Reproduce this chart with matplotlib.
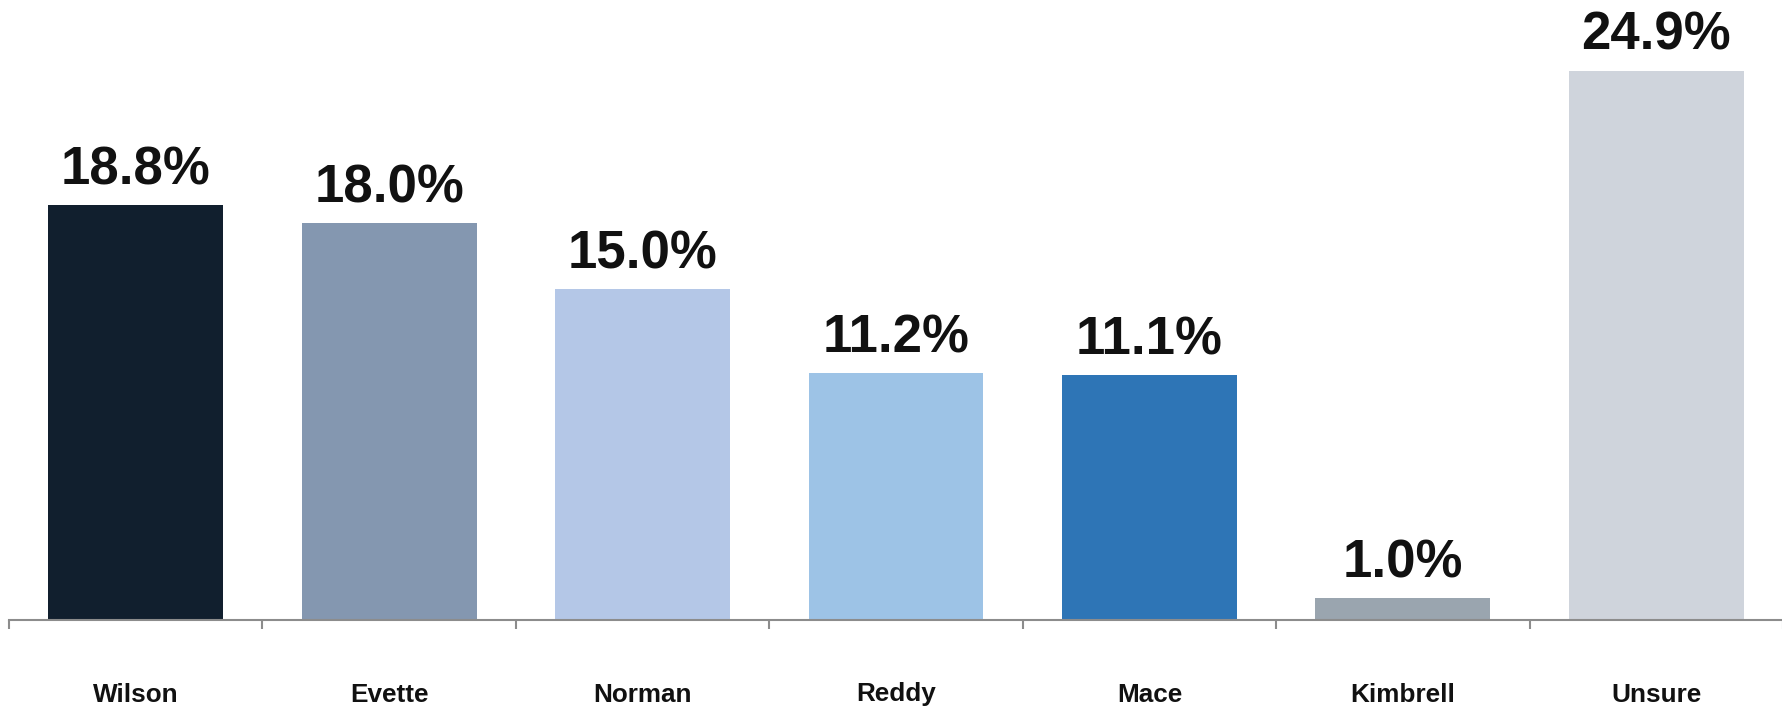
import matplotlib.pyplot as plt

names = ["Wilson", "Evette", "Norman", "Reddy", "Mace", "Kimbrell", "Unsure"]
shares = [18.8, 18.0, 15.0, 11.2, 11.1, 1.0, 24.9]
colors = ["#111f2e", "#8497b0", "#b4c7e7", "#9dc3e6", "#2e75b6", "#9aa5af", "#cfd4dc"]

plt.rcParams['font.family'] = ['Liberation Sans', 'DejaVu Sans']

fig = plt.figure(figsize=(17.83, 7.10), dpi=100)
ax = fig.add_axes([9 / 1783, 90 / 710, 1 - 9 / 1783, 620 / 710])

x = range(len(names))
bars = ax.bar(x, shares, width=0.69, color=colors)
for b, v in zip(bars, shares):
    ax.annotate(f"{v:.1f}%", (b.get_x() + b.get_width() / 2, v),
                xytext=(0, 7), textcoords="offset points",
                ha="center", va="bottom", fontsize=38, fontweight="bold", color="#111111")

ax.set_xlim(-0.5, len(names) - 0.5)
ax.set_ylim(0, 28.1)
ax.set_xticks(list(x))
ax.set_xticklabels(names, fontsize=18.8, fontweight="bold", color="#111111")
ax.tick_params(axis="x", which="major", length=0, pad=45)
ax.set_xticks([i - 0.5 for i in range(len(names) + 1)], minor=True)
ax.tick_params(axis="x", which="minor", length=6.5, width=1.5, color="#8c8c8c")
ax.set_yticks([])
for s in ["top", "right", "left"]:
    ax.spines[s].set_visible(False)
ax.spines["bottom"].set_color("#8c8c8c")
ax.spines["bottom"].set_linewidth(1.5)

fig.savefig("out.png", dpi=100)
